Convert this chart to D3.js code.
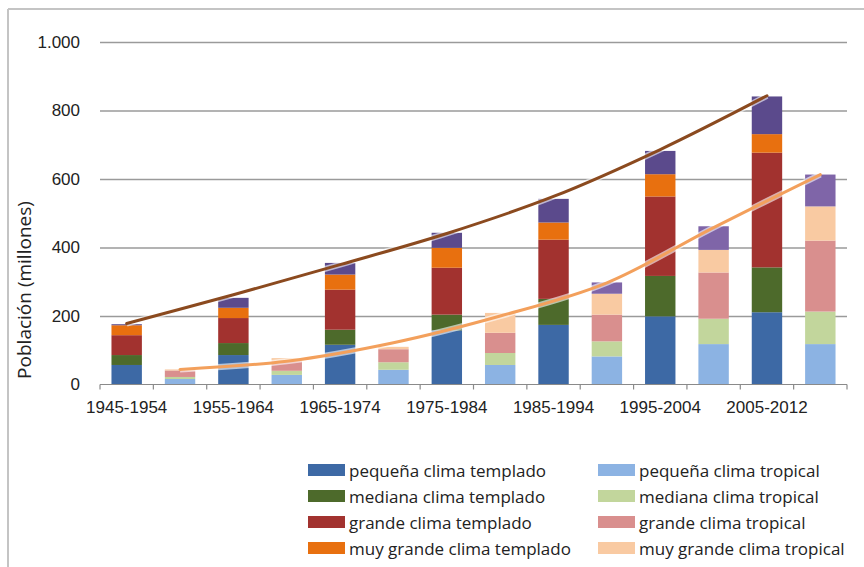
<!DOCTYPE html>
<html>
<head>
<meta charset="utf-8">
<script src="https://cdn.jsdelivr.net/npm/d3@7"></script>
<style>
  html, body { margin: 0; padding: 0; background: #fff; }
  svg { display: block; font-family: "Open Sans", "Liberation Sans", sans-serif; }
</style>
</head>
<body>
<svg id="chart" width="864" height="567"></svg>
<script>
// ---- data ----
const periods = ["1945-1954", "1955-1964", "1965-1974", "1975-1984", "1985-1994", "1995-2004", "2005-2012"];
const yTicks = [0, 200, 400, 600, 800, 1000];

// clima templado (millones)
const pequenaTemplado   = [57, 86, 116, 158, 174, 199, 211];
const medianaTemplado   = [29, 35, 44, 46, 76, 118, 131];
const grandeTemplado    = [58, 73, 117, 137, 173, 232, 335];
const muyGrandeTemplado = [29, 30, 44, 58, 50, 65, 54];
const otrosTemplado     = [3, 29, 34, 44, 69, 68, 110];

// clima tropical (millones)
const pequenaTropical   = [16, 28, 43, 57, 82, 118, 118];
const medianaTropical   = [6, 12, 22, 35, 44, 74, 95];
const grandeTropical    = [19, 28, 38, 59, 78, 135, 207];
const muyGrandeTropical = [3, 9, 7, 58, 61, 66, 100];
const otrosTropical     = [0, 0, 0, 0, 33, 69, 93];

// trend lines
const lineaTemplado = [178, 262, 350, 441, 549, 686, 843];
const lineaTropical = [44, 68, 122, 200, 297, 458, 613];

const legendTemplado = ["pequeña clima templado", "mediana clima templado", "grande clima templado", "muy grande clima templado"];
const legendTropical = ["pequeña clima tropical", "mediana clima tropical", "grande clima tropical", "muy grande clima tropical"];

const coloresTemplado = ["#3d69a5", "#4d6a2b", "#a2322f", "#e8700f", "#5b4a8c"];
const coloresTropical = ["#8cb3e3", "#c2d69c", "#d98f8e", "#f9caa2", "#7f65a8"];

// ---- build ----
const svg = d3.select("#chart");
const keys = ["pequena", "mediana", "grande", "muygrande", "otros"];

const rows = [];
periods.forEach((p, i) => {
  rows.push({slot: i * 2, climate: "templado", period: p,
    pequena: pequenaTemplado[i], mediana: medianaTemplado[i], grande: grandeTemplado[i],
    muygrande: muyGrandeTemplado[i], otros: otrosTemplado[i], linea: lineaTemplado[i]});
  rows.push({slot: i * 2 + 1, climate: "tropical", period: p,
    pequena: pequenaTropical[i], mediana: medianaTropical[i], grande: grandeTropical[i],
    muygrande: muyGrandeTropical[i], otros: otrosTropical[i], linea: lineaTropical[i]});
});

const plotLeft = 100, plotRight = 847, plotTop = 42, plotBottom = 384.5;
const x = d3.scaleBand().domain(rows.map(d => d.slot)).range([plotLeft, plotRight]).paddingInner(0.43).paddingOuter(0.215);
const y = d3.scaleLinear().domain([0, 1000]).range([plotBottom, plotTop]);

// frame
svg.append("line").attr("x1", 8).attr("x2", 864).attr("y1", 9).attr("y2", 9).attr("stroke", "#c4c4c4").attr("stroke-width", 2);
svg.append("line").attr("x1", 8).attr("x2", 8).attr("y1", 9).attr("y2", 567).attr("stroke", "#c4c4c4").attr("stroke-width", 2);

// gridlines + y labels
const yAxis = d3.axisLeft(y).tickValues(yTicks)
  .tickSize(-(plotRight - plotLeft)).tickPadding(20)
  .tickFormat(d => d === 1000 ? "1.000" : String(d));
const gy = svg.append("g").attr("transform", `translate(${plotLeft},0)`).call(yAxis);
gy.select(".domain").remove();
gy.selectAll(".tick line").attr("stroke", "#9a9a9a").attr("stroke-width", 1.6)
  .filter(d => d === 0).remove();
gy.selectAll(".tick text").attr("fill", "#222").style("font-size", "17px");

// bars
["templado", "tropical"].forEach(cl => {
  const data = rows.filter(r => r.climate === cl);
  const series = d3.stack().keys(keys)(data);
  const cols = cl === "templado" ? coloresTemplado : coloresTropical;
  svg.append("g").selectAll("g").data(series).join("g")
    .attr("fill", (d, i) => cols[i])
    .selectAll("rect").data(d => d).join("rect")
    .attr("x", d => x(d.data.slot))
    .attr("width", x.bandwidth())
    .attr("y", d => y(d[1]))
    .attr("height", d => y(d[0]) - y(d[1]));
});

// x axis
const step = x.step();
svg.append("line").attr("x1", plotLeft).attr("x2", plotRight).attr("y1", plotBottom).attr("y2", plotBottom)
  .attr("stroke", "#8a8a8a").attr("stroke-width", 1.2);
const boundaries = d3.range(rows.length + 1).map(i => plotLeft + i * step);
svg.append("g").selectAll("line").data(boundaries).join("line")
  .attr("x1", d => d).attr("x2", d => d).attr("y1", plotBottom).attr("y2", plotBottom + 5)
  .attr("stroke", "#8a8a8a").attr("stroke-width", 1.2);
const xAxis = d3.axisBottom(x).tickSize(0).tickPadding(16)
  .tickValues(rows.filter(r => r.climate === "templado").map(r => r.slot))
  .tickFormat(s => periods[s / 2]);
const gx = svg.append("g").attr("transform", `translate(0,${plotBottom})`).call(xAxis);
gx.select(".domain").remove();
gx.selectAll(".tick text").attr("fill", "#222").style("font-size", "17px");

// lines
const lineGen = d3.line()
  .x(d => x(d.slot) + x.bandwidth() / 2)
  .y(d => y(d.linea))
  .curve(d3.curveCatmullRom.alpha(0.5));
const lineData = [
  {climate: "templado", color: "#8b4a1f"},
  {climate: "tropical", color: "#f3a05c"}
];
lineData.forEach(l => {
  const pts = rows.filter(r => r.climate === l.climate);
  svg.append("path").datum(pts).attr("d", lineGen)
    .attr("fill", "none").attr("stroke", "#fff").attr("stroke-opacity", 0.6).attr("stroke-width", 6);
  svg.append("path").datum(pts).attr("d", lineGen)
    .attr("fill", "none").attr("stroke", l.color).attr("stroke-width", 3).attr("stroke-linecap", "round");
});

// y-axis title
svg.append("text").attr("transform", "translate(24,290) rotate(-90)")
  .attr("text-anchor", "middle").attr("dominant-baseline", "central")
  .attr("fill", "#222").style("font-size", "19px").text("Población (millones)");

// legend
const legend = svg.append("g");
const legendCols = [
  {items: legendTemplado, colors: coloresTemplado, x: 308},
  {items: legendTropical, colors: coloresTropical, x: 598}
];
const rowY = [470, 496, 522, 548];
legendCols.forEach(c => {
  c.items.forEach((t, i) => {
    legend.append("rect").attr("x", c.x).attr("y", rowY[i] - 6).attr("width", 37).attr("height", 12).attr("fill", c.colors[i]);
    legend.append("text").attr("x", c.x + 41).attr("y", rowY[i]).attr("dominant-baseline", "central")
      .attr("fill", "#222").style("font-size", "17px").text(t);
  });
});
</script>
</body>
</html>
